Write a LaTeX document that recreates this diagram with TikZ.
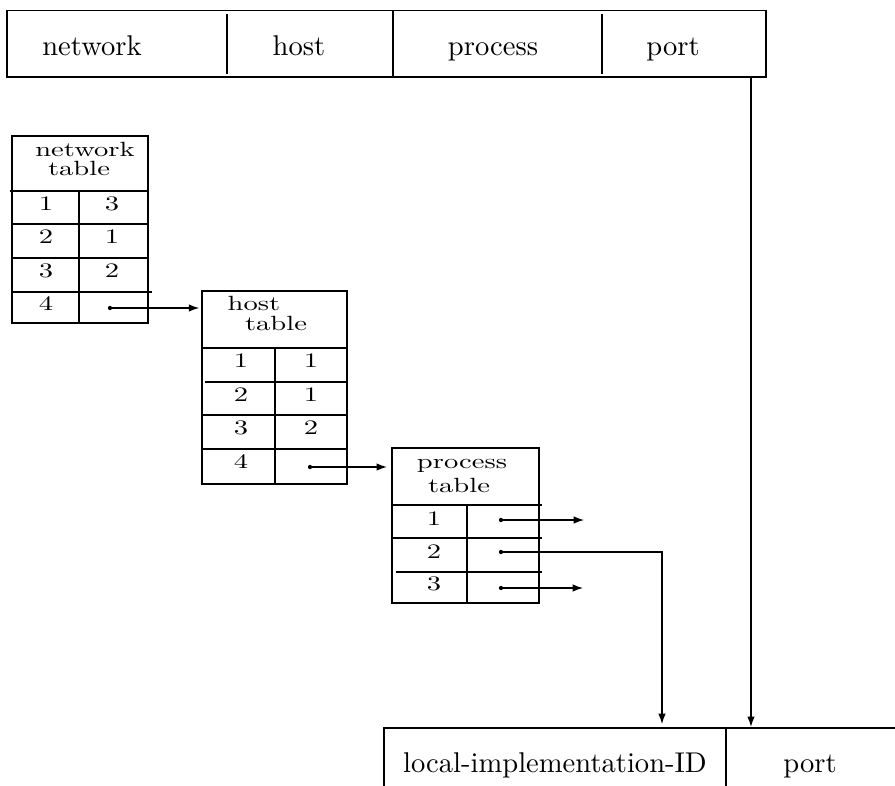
\documentclass[tikz,border=0pt]{standalone}
\usepackage{graphicx}
\usetikzlibrary{arrows.meta,fit}
\newcommand\tsq[1]{\scalebox{1}[0.72]{#1}}
\begin{document}
\begin{tikzpicture}[x=0.35pt,y=-0.35pt,line width=0.4pt,
  lbl/.style={font=\fontsize{10}{12}\selectfont, inner sep=0pt, anchor=base},
  frame/.style={draw, inner sep=0pt},
  arr/.style={-{Latex[length=3.6pt,width=2.6pt]}},
  dotc/.style={fill, radius=0.75pt}]
\useasboundingbox (0,0) rectangle (895,786);

% ---------- top address bar ----------
\coordinate (tb1) at (7,10.7);
\coordinate (tb2) at (766,77);
\node[frame, fit=(tb1)(tb2)] (topbar) {};
\draw (227,14) -- (227,74);
\draw (393,10.7) -- (393,77);
\draw (602,14) -- (602,74);
\node[lbl] (tnet) at (92,55) {network};
\node[lbl] (thost) at (299,55) {host};
\node[lbl] (tproc) at (493,55) {process};
\node[lbl] (tport) at (673,55) {port};

% ---------- network table ----------
\coordinate (n1) at (12,136);
\coordinate (n2) at (148,323);
\node[frame, fit=(n1)(n2)] (nettab) {};
\draw (10,191) -- (148,191);
\draw (12,224) -- (148,224);
\draw (12,258) -- (148,258);
\draw (12,292) -- (152,292);
\draw (79,191) -- (79,323);
\node[lbl] (nt1) at (85,156) {\tsq{network}};
\node[lbl] (nt2) at (79,175) {\tsq{table}};
\node[lbl] (na1) at (46,210) {\tsq{1}};
\node[lbl] (nb1) at (112,210) {\tsq{3}};
\node[lbl] (na2) at (46,243) {\tsq{2}};
\node[lbl] (nb2) at (112,243) {\tsq{1}};
\node[lbl] (na3) at (46,277) {\tsq{3}};
\node[lbl] (nb3) at (112,277) {\tsq{2}};
\node[lbl] (na4) at (46,310) {\tsq{4}};
\coordinate (nd4) at (110,308);

% ---------- host table ----------
\coordinate (h1) at (202,291);
\coordinate (h2) at (347,484);
\node[frame, fit=(h1)(h2)] (hosttab) {};
\draw (201,348) -- (347,348);
\draw (205,382) -- (347,382);
\draw (202,415) -- (347,415);
\draw (201,449) -- (347,449);
\draw (275,348) -- (275,484);
\node[lbl] (ht1) at (254,310) {\tsq{host}};
\node[lbl] (ht2) at (276,330) {\tsq{table}};
\node[lbl] (ha1) at (241,367) {\tsq{1}};
\node[lbl] (hb1) at (311,367) {\tsq{1}};
\node[lbl] (ha2) at (241,401) {\tsq{2}};
\node[lbl] (hb2) at (311,401) {\tsq{1}};
\node[lbl] (ha3) at (241,434) {\tsq{3}};
\node[lbl] (hb3) at (311,434) {\tsq{2}};
\node[lbl] (ha4) at (241,468) {\tsq{4}};
\coordinate (hd4) at (310,467);

% ---------- process table ----------
\coordinate (p1) at (392,448);
\coordinate (p2) at (539,603);
\node[frame, fit=(p1)(p2)] (proctab) {};
\draw (392,505) -- (542,505);
\draw (392,538) -- (542,538);
\draw (396,572) -- (542,572);
\draw (467,505) -- (467,602);
\node[lbl] (pt1) at (462,468) {\tsq{process}};
\node[lbl] (pt2) at (459,492) {\tsq{table}};
\node[lbl] (pa1) at (434,525) {\tsq{1}};
\node[lbl] (pa2) at (434,558) {\tsq{2}};
\node[lbl] (pa3) at (434,590) {\tsq{3}};
\coordinate (pd1) at (501,520);
\coordinate (pd2) at (501,552);
\coordinate (pd3) at (501,588);
\coordinate (pe1) at (584,520);
\coordinate (pe3) at (583,588);
\coordinate (pc2) at (662,552);

% ---------- bottom bar ----------
\coordinate (bl) at (384,728);
\coordinate (br) at (895,728);
\draw (384,786) -- (bl) -- (br);
\draw (726,728) -- (726,786);
\node[lbl] (lid) at (555,772) {local-implementation-ID};
\node[lbl] (bport) at (810,772) {port};

% ---------- dots ----------
\foreach \d in {nd4,hd4,pd1,pd2,pd3} \fill (\d) circle[radius=0.75pt];

% ---------- connectors ----------
\draw[arr, shorten >=0.8pt] (nd4) -- (nd4 -| hosttab.west);
\draw[arr, shorten >=1.6pt] (hd4) -- (hd4 -| proctab.west);
\draw[arr] (pd1) -- (pe1);
\draw[arr] (pd3) -- (pe3);
\draw[arr, shorten >=1.4pt] (pd2) -- (pc2) -- (pc2 |- bl);
\draw[arr, shorten >=0.4pt] (topbar.south -| 751,0) -- (751,0 |- bl);
\end{tikzpicture}
\end{document}
